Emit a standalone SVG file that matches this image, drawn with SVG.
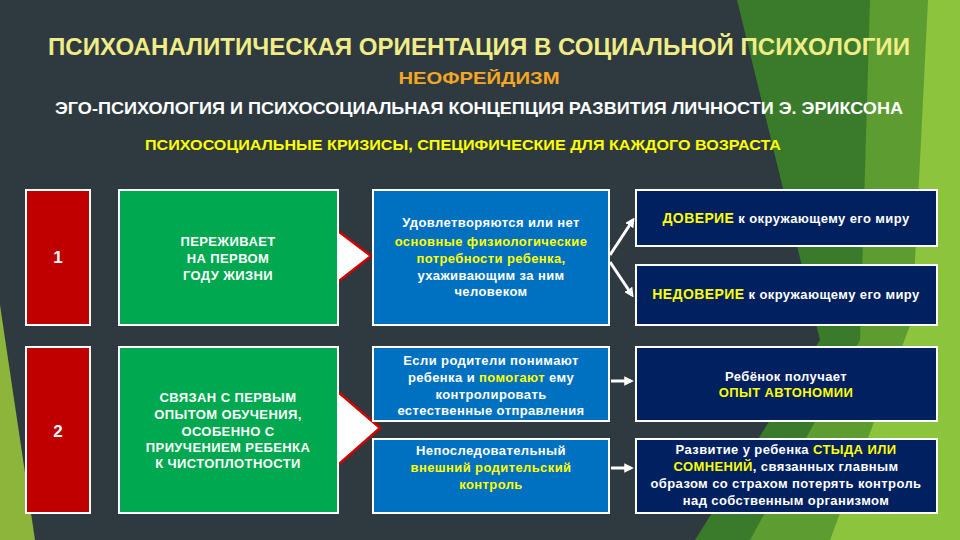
<svg xmlns="http://www.w3.org/2000/svg" width="960" height="540" viewBox="0 0 960 540">
<defs>
<style>
text{font-family:"Liberation Sans",Arial,sans-serif;font-weight:bold;text-anchor:middle}
.bt{font-size:13px;fill:#ffffff;letter-spacing:0.4px}
.w{fill:#ffffff}
.y,.bt.y{fill:#ffff00}
.box{stroke:#ffffff;stroke-width:2}
.red{fill:#c00000}
.grn{fill:#00a84f}
.blu{fill:#0070c0}
.nav{fill:#002060}
.conn{stroke:#ffffff;stroke-width:3;fill:none;marker-end:url(#ah)}
.chev{fill:#ffffff;stroke:#d00000;stroke-width:2.5;stroke-linejoin:miter}
</style>
<marker id="ah" viewBox="0 0 10 10" refX="7" refY="5" markerWidth="3.2" markerHeight="3.2" orient="auto" markerUnits="strokeWidth">
<path d="M0,0 L10,5 L0,10 z" fill="#ffffff"/>
</marker>
</defs>

<!-- background -->
<rect x="0" y="0" width="960" height="540" fill="#2e3a40"/>
<polygon points="737,0 885,0 900,540 695,540 820,340" fill="#3a7a2b"/>
<polygon points="870,0 935,0 960,120 960,540 750,540 860,340" fill="#5c9c31"/>
<polygon points="928,0 960,0 960,540 830,540 912,320" fill="#8cc43d"/>
<polygon points="0,305 35,540 0,540" fill="#8db43b"/>

<!-- titles -->
<g id="titles">
<text x="479" y="55" font-size="24" fill="#f0ec86" textLength="862" lengthAdjust="spacingAndGlyphs">ПСИХОАНАЛИТИЧЕСКАЯ ОРИЕНТАЦИЯ В СОЦИАЛЬНОЙ ПСИХОЛОГИИ</text>
<text x="479" y="84" font-size="17" fill="#f5a623" textLength="161" lengthAdjust="spacingAndGlyphs">НЕОФРЕЙДИЗМ</text>
<text x="479" y="114" font-size="17" class="w" textLength="848" lengthAdjust="spacingAndGlyphs">ЭГО-ПСИХОЛОГИЯ И ПСИХОСОЦИАЛЬНАЯ КОНЦЕПЦИЯ РАЗВИТИЯ ЛИЧНОСТИ Э. ЭРИКСОНА</text>
<text x="463" y="150" font-size="15" class="y" textLength="636" lengthAdjust="spacingAndGlyphs">ПСИХОСОЦИАЛЬНЫЕ КРИЗИСЫ, СПЕЦИФИЧЕСКИЕ ДЛЯ КАЖДОГО ВОЗРАСТА</text>
</g>

<!-- connectors -->
<g id="connectors">
<polygon class="chev" points="330,225 371,256 330,288"/>
<polygon class="chev" points="330,385 380,428 330,472"/>
<line class="conn" x1="610" y1="255" x2="633" y2="220"/>
<line class="conn" x1="610" y1="262" x2="632" y2="295"/>
<line class="conn" x1="611" y1="381" x2="631" y2="381"/>
<line class="conn" x1="611" y1="468" x2="631" y2="468"/>
</g>

<!-- row 1 -->
<g id="n1-num"><rect class="box red" x="26" y="190" width="64" height="135"/><text x="58" y="263" font-size="17" class="w">1</text></g>
<g id="n1-age"><rect class="box grn" x="119" y="190" width="219" height="135"/>
<text class="bt" x="228" y="246">ПЕРЕЖИВАЕТ</text><text class="bt" x="228" y="263">НА ПЕРВОМ</text><text class="bt" x="228" y="280">ГОДУ ЖИЗНИ</text></g>
<g id="n1-need"><rect class="box blu" x="373" y="190" width="236" height="135"/>
<text class="bt" x="491" y="227">Удовлетворяются или нет</text>
<text class="bt y" x="491" y="246">основные физиологические</text>
<text class="bt y" x="491" y="263">потребности ребенка,</text>
<text class="bt" x="491" y="280">ухаживающим за ним</text>
<text class="bt" x="491" y="296">человеком</text></g>
<g id="n1-trust"><rect class="box nav" x="636" y="190" width="301" height="56"/>
<text class="bt" x="786" y="223"><tspan class="y" font-size="14">ДОВЕРИЕ</tspan> к окружающему его миру</text></g>
<g id="n1-mistrust"><rect class="box nav" x="636" y="265" width="301" height="60"/>
<text class="bt" x="786" y="299"><tspan class="y" font-size="14">НЕДОВЕРИЕ</tspan> к окружающему его миру</text></g>

<!-- row 2 -->
<g id="n2-num"><rect class="box red" x="26" y="347" width="64" height="166"/><text x="58" y="437" font-size="17" class="w">2</text></g>
<g id="n2-age"><rect class="box grn" x="119" y="347" width="219" height="166"/>
<text class="bt" x="228" y="402">СВЯЗАН С ПЕРВЫМ</text>
<text class="bt" x="228" y="419">ОПЫТОМ ОБУЧЕНИЯ,</text>
<text class="bt" x="228" y="436">ОСОБЕННО С</text>
<text class="bt" x="228" y="452">ПРИУЧЕНИЕМ РЕБЕНКА</text>
<text class="bt" x="228" y="468">К ЧИСТОПЛОТНОСТИ</text></g>
<g id="n2-help"><rect class="box blu" x="373" y="347" width="236" height="74"/>
<text class="bt" x="491" y="365">Если родители понимают</text>
<text class="bt" x="491" y="382">ребенка и <tspan class="y">помогают</tspan> ему</text>
<text class="bt" x="491" y="399">контролировать</text>
<text class="bt" x="491" y="415">естественные отправления</text></g>
<g id="n2-inconsistent"><rect class="box blu" x="373" y="439" width="236" height="74"/>
<text class="bt" x="491" y="455">Непоследовательный</text>
<text class="bt y" x="491" y="472">внешний родительский</text>
<text class="bt y" x="491" y="489">контроль</text></g>
<g id="n2-autonomy"><rect class="box nav" x="636" y="347" width="301" height="74"/>
<text class="bt" x="786" y="381">Ребёнок получает</text>
<text class="bt y" x="786" y="397">ОПЫТ АВТОНОМИИ</text></g>
<g id="n2-shame"><rect class="box nav" x="636" y="439" width="301" height="74"/>
<text class="bt" x="786" y="454">Развитие у ребенка <tspan class="y">СТЫДА ИЛИ</tspan></text>
<text class="bt" x="786" y="471"><tspan class="y">СОМНЕНИЙ</tspan>, связанных главным</text>
<text class="bt" x="786" y="488">образом со страхом потерять контроль</text>
<text class="bt" x="786" y="505">над собственным организмом</text></g>
</svg>
